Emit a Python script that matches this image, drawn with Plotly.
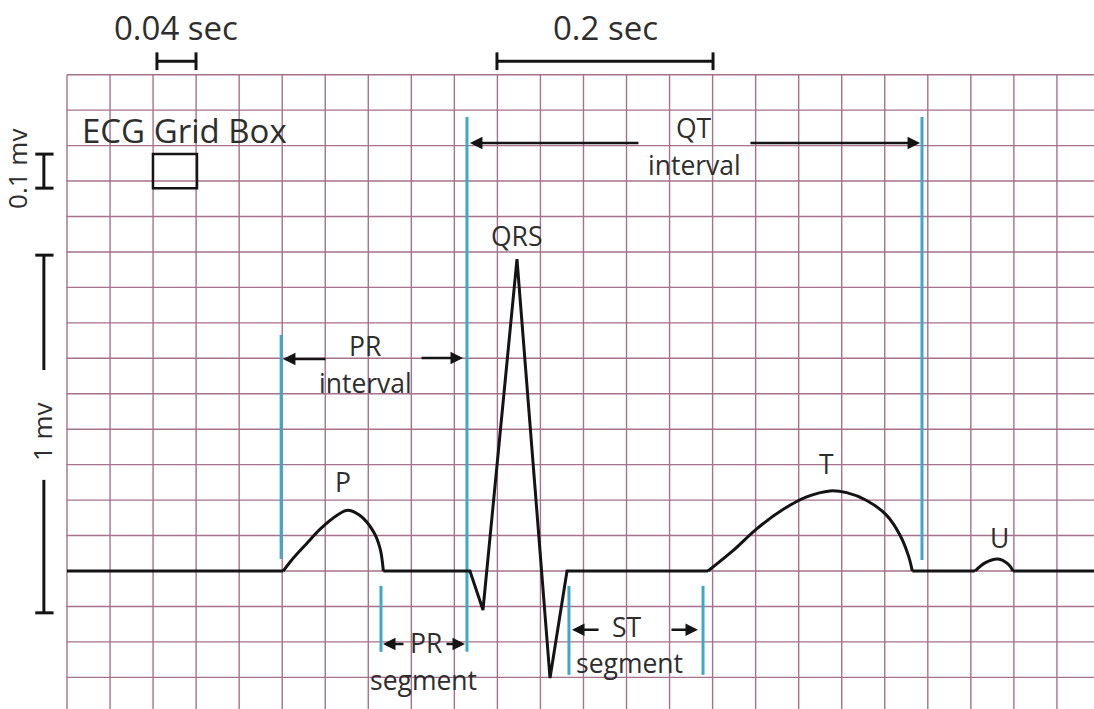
"""Diagrama de ECG sobre papel cuadriculado (P, QRS, T, U e intervalos)."""

import plotly.graph_objects as go

# escala: 1 cuadro = 0.04 s y 0.1 mV
PX_POR_SEG = 1076.0
PX_POR_MV = 354.5
X0_PX = 67      # t = 0 s
Y0_PX = 571     # v = 0 mV (línea base)
ANCHO, ALTO = 1094, 709

T_MIN = -X0_PX / PX_POR_SEG
T_MAX = (ANCHO - X0_PX) / PX_POR_SEG
V_MAX = Y0_PX / PX_POR_MV
V_MIN = -(ALTO - Y0_PX) / PX_POR_MV

# ---- datos ----
# cuadrícula
grid_t = [round(0.04 * k, 2) for k in range(24)]
grid_v = [round(1.4 - 0.1 * k, 1) for k in range(18)]

# tramos rectos: línea base y complejo QRS
base_ini_t = [0.0, 0.201]
base_ini_v = [0.0, 0.0]
qrs_t = [0.294, 0.3745, 0.3866, 0.4182, 0.4489, 0.4647, 0.5957]
qrs_v = [0.0, 0.0, -0.110, 0.880, -0.302, 0.0, 0.0]
base_tu_t = [0.7856, 0.8439]
base_tu_v = [0.0, 0.0]
base_fin_t = [0.8792, T_MAX]
base_fin_v = [0.0, 0.0]

# ondas curvas
onda_p_t = [0.201, 0.210, 0.222, 0.236, 0.251, 0.260, 0.272, 0.285, 0.291, 0.294]
onda_p_v = [0.0, 0.035, 0.075, 0.120, 0.157, 0.171, 0.157, 0.110, 0.063, 0.0]
onda_t_t = [0.5957, 0.6192, 0.6410, 0.6657, 0.6874, 0.7091, 0.7246, 0.7432,
            0.7618, 0.7742, 0.7819, 0.7856]
onda_t_v = [0.0, 0.058, 0.119, 0.174, 0.209, 0.226, 0.221, 0.199,
            0.157, 0.101, 0.044, 0.0]
onda_u_t = [0.8439, 0.8532, 0.8652, 0.8745, 0.8792]
onda_u_v = [0.0, 0.023, 0.034, 0.020, 0.0]

# marcas azules (inicio / fin de intervalos y segmentos)
marca_t = [0.199, 0.3717, 0.7946, 0.2918, 0.4665, 0.5911]
marca_v_sup = [0.666, 1.281, 1.281, -0.042, -0.042, -0.042]
marca_v_inf = [0.034, -0.228, 0.031, -0.228, -0.293, -0.293]

# flechas: desde -> hasta, a la altura flecha_v
flecha_desde = [0.5325, 0.6338, 0.2416, 0.3281, 0.3141, 0.3513, 0.4954, 0.5604]
flecha_hasta = [0.3745, 0.7928, 0.2007, 0.3680, 0.2937, 0.3699, 0.4693, 0.5864]
flecha_v = [1.207, 1.207, 0.598, 0.601, -0.206, -0.206, -0.166, -0.166]

# etiquetas de las ondas e intervalos
etiquetas = ["P", "QRS", "T", "U", "QT", "interval", "PR", "interval",
             "PR", "segment", "ST", "segment"]
etiqueta_t = [0.2565, 0.4182, 0.7054, 0.8662, 0.5827, 0.5836, 0.277, 0.277,
              0.3336, 0.3309, 0.5204, 0.5232]
etiqueta_v = [0.250, 0.945, 0.302, 0.093, 1.250, 1.145, 0.635, 0.530,
              -0.203, -0.307, -0.158, -0.259]

# escalas de referencia
escala_textos = ["0.04 sec", "0.2 sec"]
escala_t_ini = [0.0836, 0.3996]
escala_t_fin = [0.1199, 0.6004]
escala_v = [1.438, 1.438]

COLOR_GRID = '#a6718d'
COLOR_AZUL = '#3fa8c8'
COLOR_LINEA = '#141414'
COLOR_TEXTO = '#2e2e2e'
FUENTE = 'Open Sans'


def segmentos(pares):
    """Une segmentos [(t0, v0, t1, v1), ...] en listas con None entre ellos."""
    xs, ys = [], []
    for t0, v0, t1, v1 in pares:
        xs += [t0, t1, None]
        ys += [v0, v1, None]
    return xs, ys


fig = go.Figure()

# Cuadrícula
lineas = [(t, grid_v[0], t, V_MIN) for t in grid_t]
lineas += [(0.0, v, T_MAX, v) for v in grid_v]
gx, gy = segmentos(lineas)
fig.add_trace(go.Scatter(x=gx, y=gy, mode='lines',
                         line=dict(color=COLOR_GRID, width=1.4), hoverinfo='skip'))

# Marcas azules
mx, my = segmentos(zip(marca_t, marca_v_sup, marca_t, marca_v_inf))
fig.add_trace(go.Scatter(x=mx, y=my, mode='lines',
                         line=dict(color=COLOR_AZUL, width=3), hoverinfo='skip'))

# Trazo del ECG
for tt, vv in [(base_ini_t, base_ini_v), (qrs_t, qrs_v),
               (base_tu_t, base_tu_v), (base_fin_t, base_fin_v)]:
    fig.add_trace(go.Scatter(x=tt, y=vv, mode='lines',
                             line=dict(color=COLOR_LINEA, width=3), hoverinfo='skip'))
for tt, vv in [(onda_p_t, onda_p_v), (onda_t_t, onda_t_v), (onda_u_t, onda_u_v)]:
    fig.add_trace(go.Scatter(x=tt, y=vv, mode='lines',
                             line=dict(color=COLOR_LINEA, width=3, shape='spline'),
                             hoverinfo='skip'))

# Escalas de 0.04 s y 0.2 s
pares = []
for t0, t1, v in zip(escala_t_ini, escala_t_fin, escala_v):
    pares += [(t0, v, t1, v), (t0, v - 0.025, t0, v + 0.025), (t1, v - 0.025, t1, v + 0.025)]
# escalas verticales de 0.1 mV y 1 mV
t_v, t_c0, t_c1 = -0.0215, -0.0295, -0.0125
pares += [(t_v, 1.176, t_v, 1.080), (t_c0, 1.176, t_c1, 1.176), (t_c0, 1.080, t_c1, 1.080)]
pares += [(t_v, 0.891, t_v, 0.567), (t_v, 0.257, t_v, -0.118),
          (t_c0, 0.891, t_c1, 0.891), (t_c0, -0.118, t_c1, -0.118)]
ex, ey = segmentos(pares)
fig.add_trace(go.Scatter(x=ex, y=ey, mode='lines',
                         line=dict(color=COLOR_LINEA, width=3), hoverinfo='skip'))

# Cuadro de ejemplo "ECG Grid Box"
fig.add_shape(type='rect', x0=0.0799, x1=0.1208, y0=1.080, y1=1.176,
              line=dict(color=COLOR_LINEA, width=2.5))

anotaciones = []
for t0, t1, v in zip(flecha_desde, flecha_hasta, flecha_v):
    anotaciones.append(dict(x=t1, y=v, ax=t0, ay=v, xref='x', yref='y',
                            axref='x', ayref='y', text='', showarrow=True,
                            arrowhead=2, arrowsize=1.0, arrowwidth=2.5,
                            arrowcolor=COLOR_LINEA))
for txt, t, v in zip(etiquetas, etiqueta_t, etiqueta_v):
    anotaciones.append(dict(x=t, y=v, text=txt, showarrow=False,
                            font=dict(size=26.5, color=COLOR_TEXTO)))
for txt, t0, t1, v in zip(escala_textos, escala_t_ini, escala_t_fin, escala_v):
    anotaciones.append(dict(x=(t0 + t1) / 2, y=1.532, text=txt, showarrow=False,
                            font=dict(size=33, color=COLOR_TEXTO)))
anotaciones.append(dict(x=0.0125, y=1.242, text='ECG Grid Box', xanchor='left',
                        showarrow=False, font=dict(size=33, color=COLOR_TEXTO)))
anotaciones.append(dict(x=-0.0465, y=1.134, text='0.1 mv', textangle=-90,
                        showarrow=False, font=dict(size=26, color=COLOR_TEXTO)))
anotaciones.append(dict(x=-0.0232, y=0.392, text='1 mv', textangle=-90,
                        showarrow=False, font=dict(size=26, color=COLOR_TEXTO)))

fig.update_layout(
    width=ANCHO, height=ALTO,
    margin=dict(l=0, r=0, t=0, b=0),
    paper_bgcolor='white', plot_bgcolor='white',
    showlegend=False,
    font=dict(family=FUENTE, color=COLOR_TEXTO),
    annotations=anotaciones,
    xaxis=dict(range=[T_MIN, T_MAX], visible=False, fixedrange=True),
    yaxis=dict(range=[V_MIN, V_MAX], visible=False, fixedrange=True),
)

fig.write_html("out.html", config={'displayModeBar': False},
               post_script="document.body.style.margin='0';")
